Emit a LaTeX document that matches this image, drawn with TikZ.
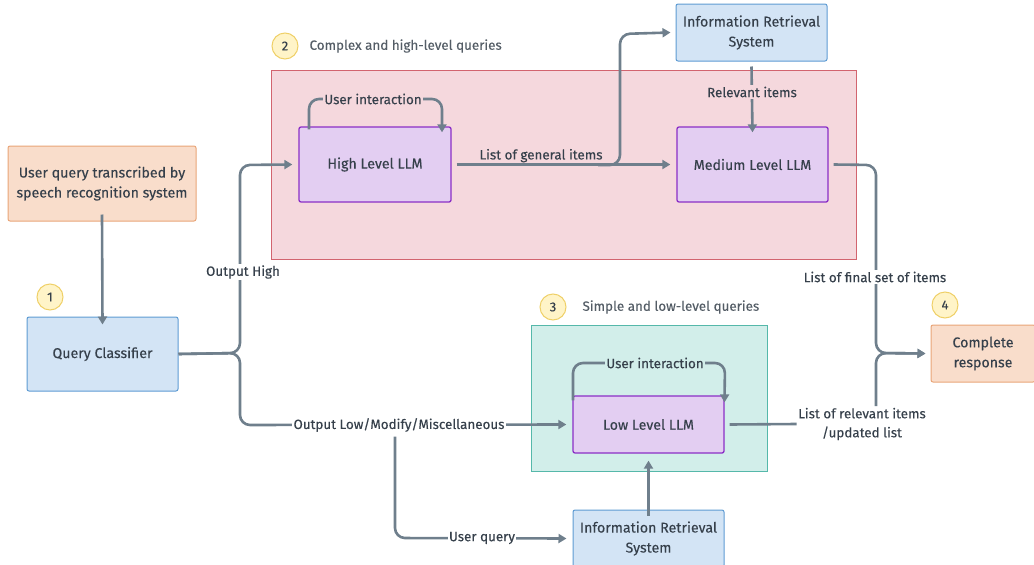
\documentclass[tikz,border=0pt]{standalone}
\usepackage{fontspec}
\setmainfont{Fira Sans}[UprightFeatures={FakeBold=0.2}]
\usetikzlibrary{arrows.meta}
\definecolor{conn}{HTML}{6F7F8C}
\definecolor{txt}{HTML}{36404B}
\definecolor{peachF}{HTML}{F9DDCB}
\definecolor{peachD}{HTML}{E9A578}
\definecolor{blueF}{HTML}{D3E4F5}
\definecolor{blueD}{HTML}{5E9BD3}
\definecolor{purF}{HTML}{E3CEF2}
\definecolor{purD}{HTML}{8B2FC6}
\definecolor{pinkF}{HTML}{F5D8DD}
\definecolor{pinkD}{HTML}{D2646F}
\definecolor{tealF}{HTML}{D2EEEA}
\definecolor{tealD}{HTML}{55B8AA}
\definecolor{yelF}{HTML}{FFF4C8}
\definecolor{yelD}{HTML}{EFD068}
\begin{document}
\begin{tikzpicture}[x=1pt,y=-1pt,
  every node/.style={font=\fontsize{13.4}{18}\selectfont, text=txt},
  box/.style={draw, line width=1pt, rounded corners=2pt, align=center, inner sep=2pt, font=\fontsize{14.2}{20}\selectfont},
  peachbox/.style={box, fill=peachF, draw=peachD},
  bluebox/.style={box, fill=blueF, draw=blueD},
  llmbox/.style={box, fill=purF, draw=purD, line width=1.3pt},
  region/.style={draw, line width=1pt},
  num/.style={circle, draw=yelD, fill=yelF, line width=1pt, minimum size=26pt, inner sep=0pt, font=\fontsize{13}{15}\selectfont},
  captxt/.style={anchor=west, text=txt!85},
  lbl/.style={inner sep=1.5pt},
  link/.style={draw=conn, line width=2.6pt, rounded corners=10pt},
  arr/.style={link, -{Triangle[length=8pt,width=9pt]}}
]
\useasboundingbox (0,0) rectangle (1034,565);

% regions
\node[region, fill=pinkF, draw=pinkD, minimum width=585pt, minimum height=189pt] (pinkreg) at (563.5,164.5) {};
\node[region, fill=tealF, draw=tealD, minimum width=236pt, minimum height=146pt] (tealreg) at (649,398) {};

% numbered captions
\node[num] (n1) at (50,297) {1};
\node[num] (n2) at (285,46) {2};
\node[captxt] (c2) at (306,46) {Complex and high-level queries};
\node[num] (n3) at (553,307) {3};
\node[captxt] (c3) at (579,307) {Simple and low-level queries};
\node[num] (n4) at (945,305) {4};

% boxes
\node[peachbox, minimum width=188pt, minimum height=75pt] (uq) at (102,183.5) {User query transcribed by\\speech recognition system};
\node[bluebox, minimum width=151pt, minimum height=74pt] (qc) at (102.5,354) {Query Classifier};
\node[llmbox, minimum width=152pt, minimum height=75pt] (hl) at (375,164.5) {High Level LLM};
\node[llmbox, minimum width=151pt, minimum height=75pt] (ml) at (752.5,164.5) {Medium Level LLM};
\node[bluebox, minimum width=151pt, minimum height=57pt] (irt) at (751.5,32.5) {Information Retrieval\\System};
\node[llmbox, minimum width=151pt, minimum height=57pt] (ll) at (648.5,424.5) {Low Level LLM};
\node[bluebox, minimum width=151pt, minimum height=57pt] (irb) at (648.5,538.5) {Information Retrieval\\System};
\node[peachbox, minimum width=104pt, minimum height=57pt] (cr) at (983,353.5) {Complete\\response};

% classifier input
\draw[arr] ([yshift=7pt]uq.south) -- ([yshift=-8pt]qc.north);

% classifier outputs
\coordinate (jq) at (240,353);
\draw[arr] (qc.east) -- (jq) -- (240,165) -- ([xshift=-6pt]hl.west);
\draw[arr] (qc.east) -- (jq) -- (240,425) -- ([xshift=-6pt]ll.west);
\node[lbl, fill=white] (ohigh) at (243,272) {Output High};
\node[lbl, fill=white] (olow) at (399,425) {Output Low/Modify/Miscellaneous};

% user query to bottom IR
\draw[arr] ([yshift=-3pt]olow.south -| 395,0) -- (395,538) -- ([xshift=-6pt]irb.west);
\node[lbl, fill=white] (uqlbl) at (482,538) {User query};

% high level loop
\coordinate (hla) at (309,99);
\coordinate (hlb) at (442,99);
\draw[arr] ([xshift=-66pt,yshift=-3pt]hl.north) -- (hla) -- (hlb) -- ([xshift=67pt,yshift=-6pt]hl.north);
\node[lbl, fill=pinkF] (ui1) at (373,99) {User interaction};

% high -> medium, branch to IR
\draw[arr] ([xshift=5pt]hl.east) -- ([xshift=-6pt]ml.west);
\draw[arr] (598,165) -- (620,165) -- (620,34) -- ([xshift=-5pt]irt.west);
\node[lbl, anchor=south] (lgi) at (541,164) {List of general items};

% IR -> medium
\draw[arr] ([yshift=-5pt]irt.south) -- ([yshift=-6pt]ml.north);
\node[lbl, fill=pinkF] (rel) at (752,92) {Relevant items};

% low level loop
\coordinate (lla) at (573,363);
\coordinate (llb) at (725,363);
\draw[arr] ([xshift=-75.5pt,yshift=-5pt]ll.north) -- (lla) -- (llb) -- ([xshift=76pt,yshift=-7pt]ll.north);
\node[lbl, fill=tealF] (ui2) at (655,363) {User interaction};

% bottom IR -> low
\draw[arr] ([yshift=-6pt]irb.north) -- ([yshift=-7pt]ll.south);

% outputs to complete response
\node[lbl, align=center, fill=white, font=\fontsize{13.4}{19}\selectfont] (lrel) at (862,424) {List of relevant items\\/updated list};
\node[lbl, fill=white] (lfin) at (875,277) {List of final set of items};
\coordinate (jr) at (876,353);
\draw[link] ([xshift=5pt]ll.east) -- (lrel.west);
\draw[link] ([xshift=5pt]ml.east) -- (876,165) -- (lfin.north -| jr);
\draw[arr] (lfin.south -| jr) -- (jr) -- ([xshift=-5pt]cr.west);
\draw[arr] (lrel.north -| jr) -- (jr) -- ([xshift=-5pt]cr.west);
\end{tikzpicture}
\end{document}
